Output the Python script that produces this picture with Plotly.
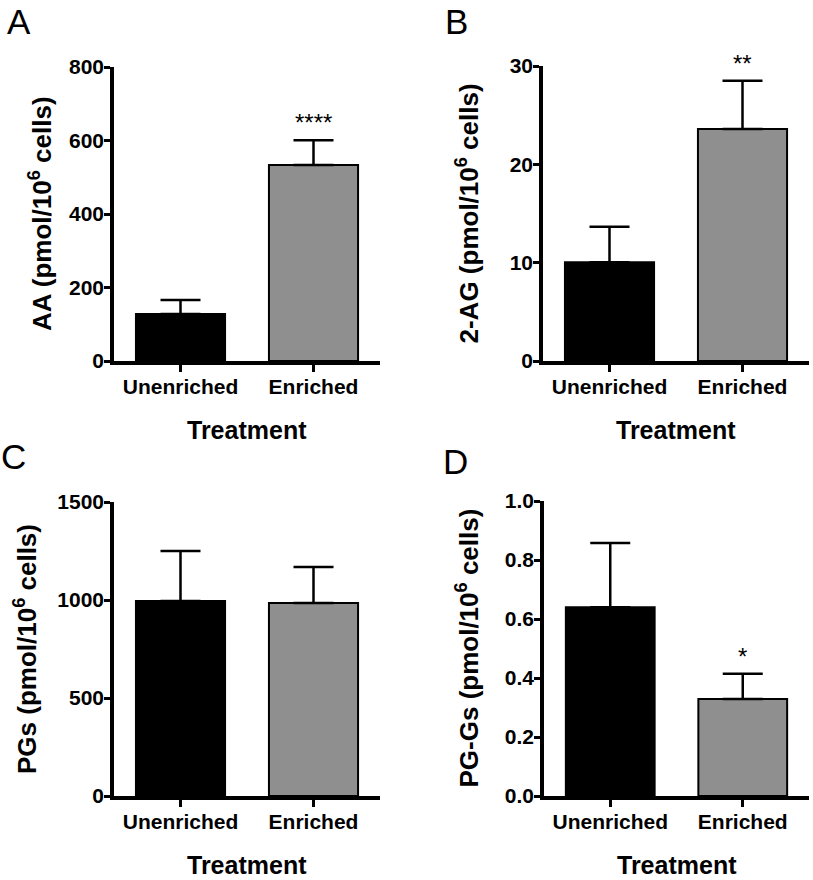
import plotly.graph_objects as go

categories = ["Unenriched", "Enriched"]

aa_mean = [128, 533]
aa_sem = [38, 68]

ag_mean = [10.05, 23.6]
ag_sem = [3.6, 4.9]

pgs_mean = [995, 985]
pgs_sem = [255, 183]

pgg_mean = [0.64, 0.329]
pgg_sem = [0.218, 0.085]

stars_a = ["", "****"]
stars_b = ["", "**"]
stars_c = ["", ""]
stars_d = ["", "*"]

y_ticks_a = [0, 200, 400, 600, 800]
y_ticks_b = [0, 10, 20, 30]
y_ticks_c = [0, 500, 1000, 1500]
y_ticks_d = [0.0, 0.2, 0.4, 0.6, 0.8, 1.0]
y_tick_text_d = ["0.0", "0.2", "0.4", "0.6", "0.8", "1.0"]

W, H = 813, 880
FONT = "Liberation Sans, Arial, Helvetica, sans-serif"
BAR_COLORS = ["#000000", "#8f8f8f"]


def fx(px):
    return px / W


def fy(py):
    return 1 - py / H


panels = [
    dict(letter="A", mean=aa_mean, sem=aa_sem, stars=stars_a, ticks=y_ticks_a,
         ticktext=[str(t) for t in y_ticks_a], yrange=[0, 800],
         title="AA (pmol/10<sup>6</sup> cells)",
         px_x=(114, 380), px_y=(67, 361), title_x=40, letter_xy=(5, 0)),
    dict(letter="B", mean=ag_mean, sem=ag_sem, stars=stars_b, ticks=y_ticks_b,
         ticktext=[str(t) for t in y_ticks_b], yrange=[0, 30],
         title="2-AG (pmol/10<sup>6</sup> cells)",
         px_x=(543, 809), px_y=(66, 361), title_x=468, letter_xy=(443, 0)),
    dict(letter="C", mean=pgs_mean, sem=pgs_sem, stars=stars_c, ticks=y_ticks_c,
         ticktext=[str(t) for t in y_ticks_c], yrange=[0, 1500],
         title="PGs (pmol/10<sup>6</sup> cells)",
         px_x=(114, 380), px_y=(502, 796), title_x=25, letter_xy=(-1, 435)),
    dict(letter="D", mean=pgg_mean, sem=pgg_sem, stars=stars_d, ticks=y_ticks_d,
         ticktext=y_tick_text_d, yrange=[0, 1.0],
         title="PG-Gs (pmol/10<sup>6</sup> cells)",
         px_x=(544, 809), px_y=(501, 796), title_x=468, letter_xy=(441, 440)),
]

fig = go.Figure()
annotations = []

for i, p in enumerate(panels):
    n = i + 1
    xa = "x" if n == 1 else f"x{n}"
    ya = "y" if n == 1 else f"y{n}"
    fig.add_trace(go.Bar(
        x=categories, y=p["mean"], xaxis=xa, yaxis=ya,
        width=0.67,
        marker=dict(color=BAR_COLORS, line=dict(color="black", width=2)),
        error_y=dict(type="data", symmetric=False, array=p["sem"],
                     arrayminus=[0] * len(p["sem"]),
                     color="black", thickness=2.5, width=20),
        showlegend=False,
    ))
    x0, x1 = p["px_x"]
    yt, yb = p["px_y"]
    xkey = "xaxis" if n == 1 else f"xaxis{n}"
    ykey = "yaxis" if n == 1 else f"yaxis{n}"
    fig.update_layout(**{
        xkey: dict(domain=[fx(x0), fx(x1)], anchor=ya, range=[-0.5, 1.5],
                   automargin=False, ticklabelstandoff=-3,
                   showline=True, linecolor="black", linewidth=3.5,
                   ticks="outside", ticklen=7, tickwidth=3, tickcolor="black",
                   showgrid=False, zeroline=False,
                   tickfont=dict(family=FONT, size=21, color="black", weight="bold")),
        ykey: dict(domain=[fy(yb), fy(yt)], anchor=xa, range=p["yrange"],
                   automargin=False, ticklabelstandoff=-4,
                   tickvals=p["ticks"], ticktext=p["ticktext"],
                   showline=True, linecolor="black", linewidth=3.5,
                   ticks="outside", ticklen=6, tickwidth=3, tickcolor="black",
                   showgrid=False, zeroline=False,
                   tickfont=dict(family=FONT, size=21, color="black", weight="bold")),
    })
    # y-axis title
    annotations.append(dict(
        text=f"<b>{p['title']}</b>", textangle=-90,
        xref="paper", yref="paper",
        x=fx(p["title_x"]), y=fy((yt + yb) / 2),
        xanchor="center", yanchor="middle", showarrow=False,
        font=dict(family=FONT, size=26, color="black")))
    # x-axis title
    annotations.append(dict(
        text="<b>Treatment</b>", xref="paper", yref="paper",
        x=fx((x0 + x1) / 2), y=fy(yb + 69),
        xanchor="center", yanchor="middle", showarrow=False,
        font=dict(family=FONT, size=25, color="black")))
    # panel letter
    lx, ly = p["letter_xy"]
    annotations.append(dict(
        text=p["letter"], xref="paper", yref="paper",
        x=fx(lx), y=fy(ly), xanchor="left", yanchor="top",
        showarrow=False, font=dict(family=FONT, size=35, color="black")))
    # significance stars
    for c, m, s, st in zip(categories, p["mean"], p["sem"], p["stars"]):
        if st:
            annotations.append(dict(
                text=st, xref=xa, yref=ya, x=c, y=m + s,
                xanchor="center", yanchor="bottom", yshift=2,
                showarrow=False, font=dict(family=FONT, size=24, color="black")))

fig.update_layout(
    width=W, height=H,
    margin=dict(l=0, r=0, t=0, b=0, autoexpand=False),
    plot_bgcolor="white", paper_bgcolor="white",
    bargap=0.33,
    annotations=annotations,
    font=dict(family=FONT, color="black"),
)

fig.write_html(
    "out.html",
    config={"displayModeBar": False},
    post_script="document.body.style.margin='0';document.body.style.overflow='hidden';",
)
